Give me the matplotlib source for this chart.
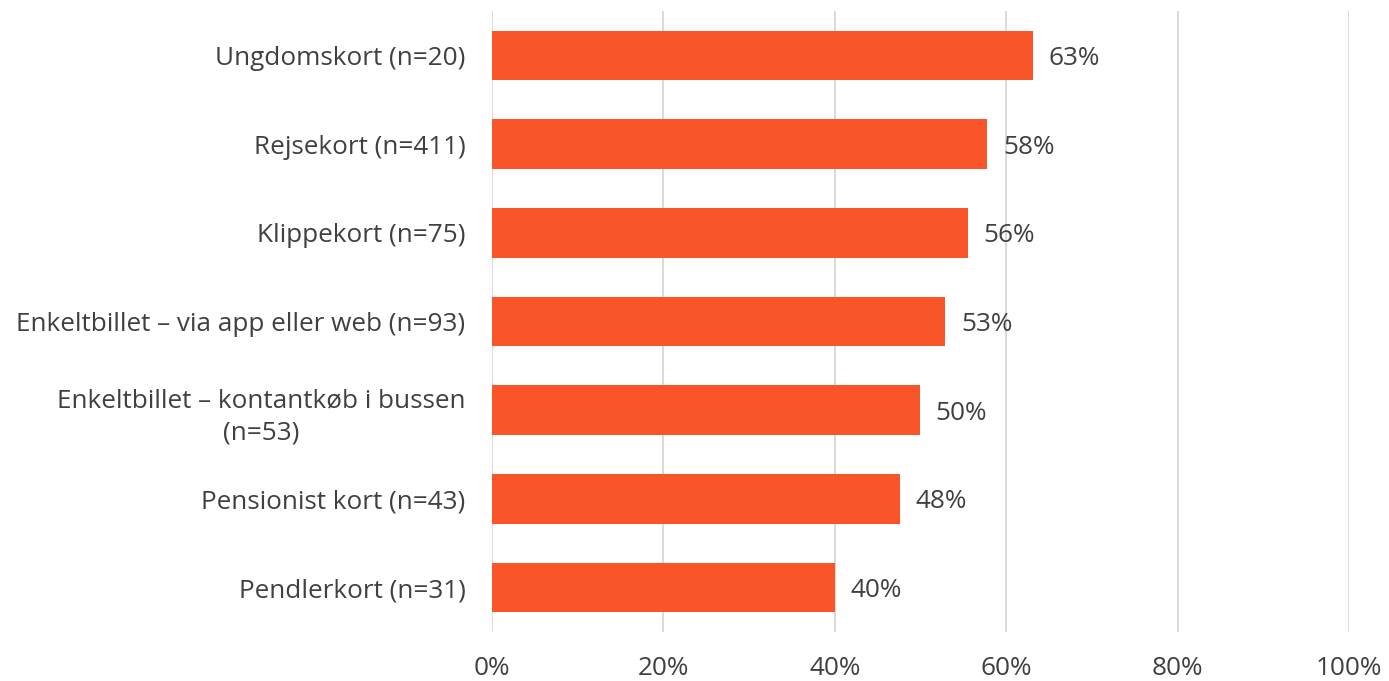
import matplotlib
matplotlib.use('Agg')
import numpy as np
import matplotlib.pyplot as plt
from matplotlib.ticker import PercentFormatter

categories = [
    'Ungdomskort (n=20)',
    'Rejsekort (n=411)',
    'Klippekort (n=75)',
    'Enkeltbillet – via app eller web (n=93)',
    'Enkeltbillet – kontantkøb i bussen\n(n=53)',
    'Pensionist kort (n=43)',
    'Pendlerkort (n=31)',
]
values = [0.631, 0.578, 0.555, 0.529, 0.499, 0.476, 0.400]
xticks = [0, 0.2, 0.4, 0.6, 0.8, 1.0]

bar_color = '#FA5528'
text_color = '#404040'
grid_color = '#D9D9D9'

plt.rcParams['font.family'] = ['Open Sans', 'DejaVu Sans']

fig = plt.figure(figsize=(13.89, 6.81), dpi=100)
ax = fig.add_axes([492/1389, 1 - 632/681, 857/1389, 621/681])

y = np.arange(len(categories))
ax.barh(y, values, height=0.56, color=bar_color, zorder=3)

for yi, v in zip(y, values):
    ax.annotate(f'{v*100:.0f}%', (v, yi), xytext=(11.5, 0), textcoords='offset points',
                ha='left', va='center_baseline', fontsize=18.8, color=text_color)

ax.set_xlim(0, 1)
ax.set_ylim(len(categories) - 0.5, -0.5)
ax.set_xticks(xticks)
ax.xaxis.set_major_formatter(PercentFormatter(1.0, decimals=0))
ax.set_yticks(y)
ax.set_yticklabels(categories)
for lab in ax.get_yticklabels():
    lab.set_multialignment('center')
    lab.set_linespacing(1.4)

ax.tick_params(axis='both', length=0, labelsize=18.8, labelcolor=text_color)
ax.tick_params(axis='y', pad=19)
ax.tick_params(axis='x', pad=17)
ax.grid(axis='x', color=grid_color, linewidth=1.4, zorder=0)
for s in ax.spines.values():
    s.set_visible(False)

fig.savefig('out.png', dpi=100)
